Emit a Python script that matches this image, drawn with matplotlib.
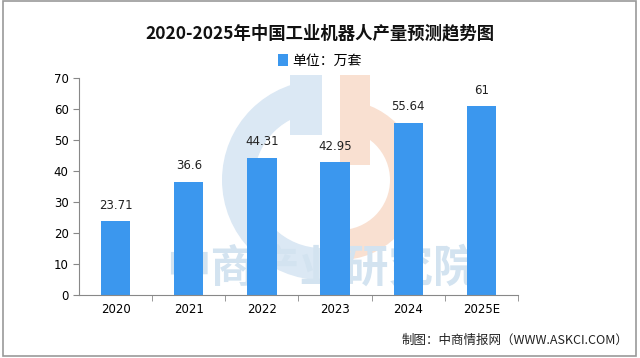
import matplotlib
matplotlib.use("Agg")
import matplotlib.pyplot as plt
from matplotlib.patches import Wedge, Rectangle

plt.rcParams["font.family"] = ["Noto Sans CJK SC", "DejaVu Sans"]

years = ["2020", "2021", "2022", "2023", "2024", "2025E"]
output = [23.71, 36.6, 44.31, 42.95, 55.64, 61]
labels = ["23.71", "36.6", "44.31", "42.95", "55.64", "61"]

BLUE = "#3b97ee"

fig = plt.figure(figsize=(6.4, 3.58), dpi=100)
fig.patch.set_facecolor("white")
fig.add_artist(Rectangle((0.004, 0.006), 0.99, 0.99, transform=fig.transFigure,
                         fill=False, edgecolor="#999999", lw=1.2))

# watermark logo behind the axes
wm = fig.add_axes([0, 0, 1, 1], zorder=0)
wm.set_xlim(0, 640)
wm.set_ylim(358, 0)
wm.axis("off")
wm.add_patch(Wedge((322, 180), 100, 90, 270, width=32, facecolor="#dbe8f4", edgecolor="none"))
wm.add_patch(Rectangle((290, 75), 32, 60, facecolor="#dbe8f4", edgecolor="none"))
wm.add_patch(Wedge((340, 180), 80, -90, 90, width=30, facecolor="#f9e0d1", edgecolor="none"))
wm.add_patch(Rectangle((340, 75), 30, 90, facecolor="#f9e0d1", edgecolor="none"))
wm.text(322, 268, "中商产业研究院", fontsize=32, color="#d3e3f0", ha="center", va="center",
        fontweight="bold")

ax = fig.add_axes([79 / 640, 1 - 295 / 358, 439 / 640, 217 / 358], zorder=1)
ax.patch.set_alpha(0)
x = range(len(years))
bars = ax.bar(x, output, width=0.4, color=BLUE, zorder=2, label="单位：万套")
for xi, v, lab in zip(x, output, labels):
    ax.text(xi, v + 3, lab, ha="center", va="bottom", fontsize=8.5, color="#222222",
            family="DejaVu Sans")

ax.set_xlim(-0.5, len(years) - 0.5)
ax.set_ylim(0, 70)
ax.set_yticks(range(0, 71, 10))
ax.set_xticks(x)
ax.set_xticklabels(years, family="DejaVu Sans", fontsize=8.5)
ax.set_xticks([i + 0.5 for i in range(len(years))], minor=True)
ax.tick_params(axis="x", which="major", length=0, pad=6)
ax.tick_params(axis="x", which="minor", length=4, color="#888888")
ax.tick_params(axis="y", length=4, color="#888888", labelsize=8.5)
for t in ax.get_yticklabels():
    t.set_family("DejaVu Sans")
for s in ["top", "right"]:
    ax.spines[s].set_visible(False)
for s in ["left", "bottom"]:
    ax.spines[s].set_color("#888888")

fig.text(0.5, 1 - 33 / 358, "2020-2025年中国工业机器人产量预测趋势图", ha="center", va="center",
         fontsize=12.5, fontweight="bold", color="#111111")
fig.legend(handles=[bars], loc="center", bbox_to_anchor=(0.5, 1 - 61 / 358), frameon=False,
           fontsize=10, handlelength=0.7, handleheight=0.9, handletextpad=0.3)
fig.text(0.982, 1 - 340 / 358, "制图：中商情报网（WWW.ASKCI.COM）", ha="right", va="center",
         fontsize=9, color="#222222")

fig.savefig("out.png", dpi=100)
